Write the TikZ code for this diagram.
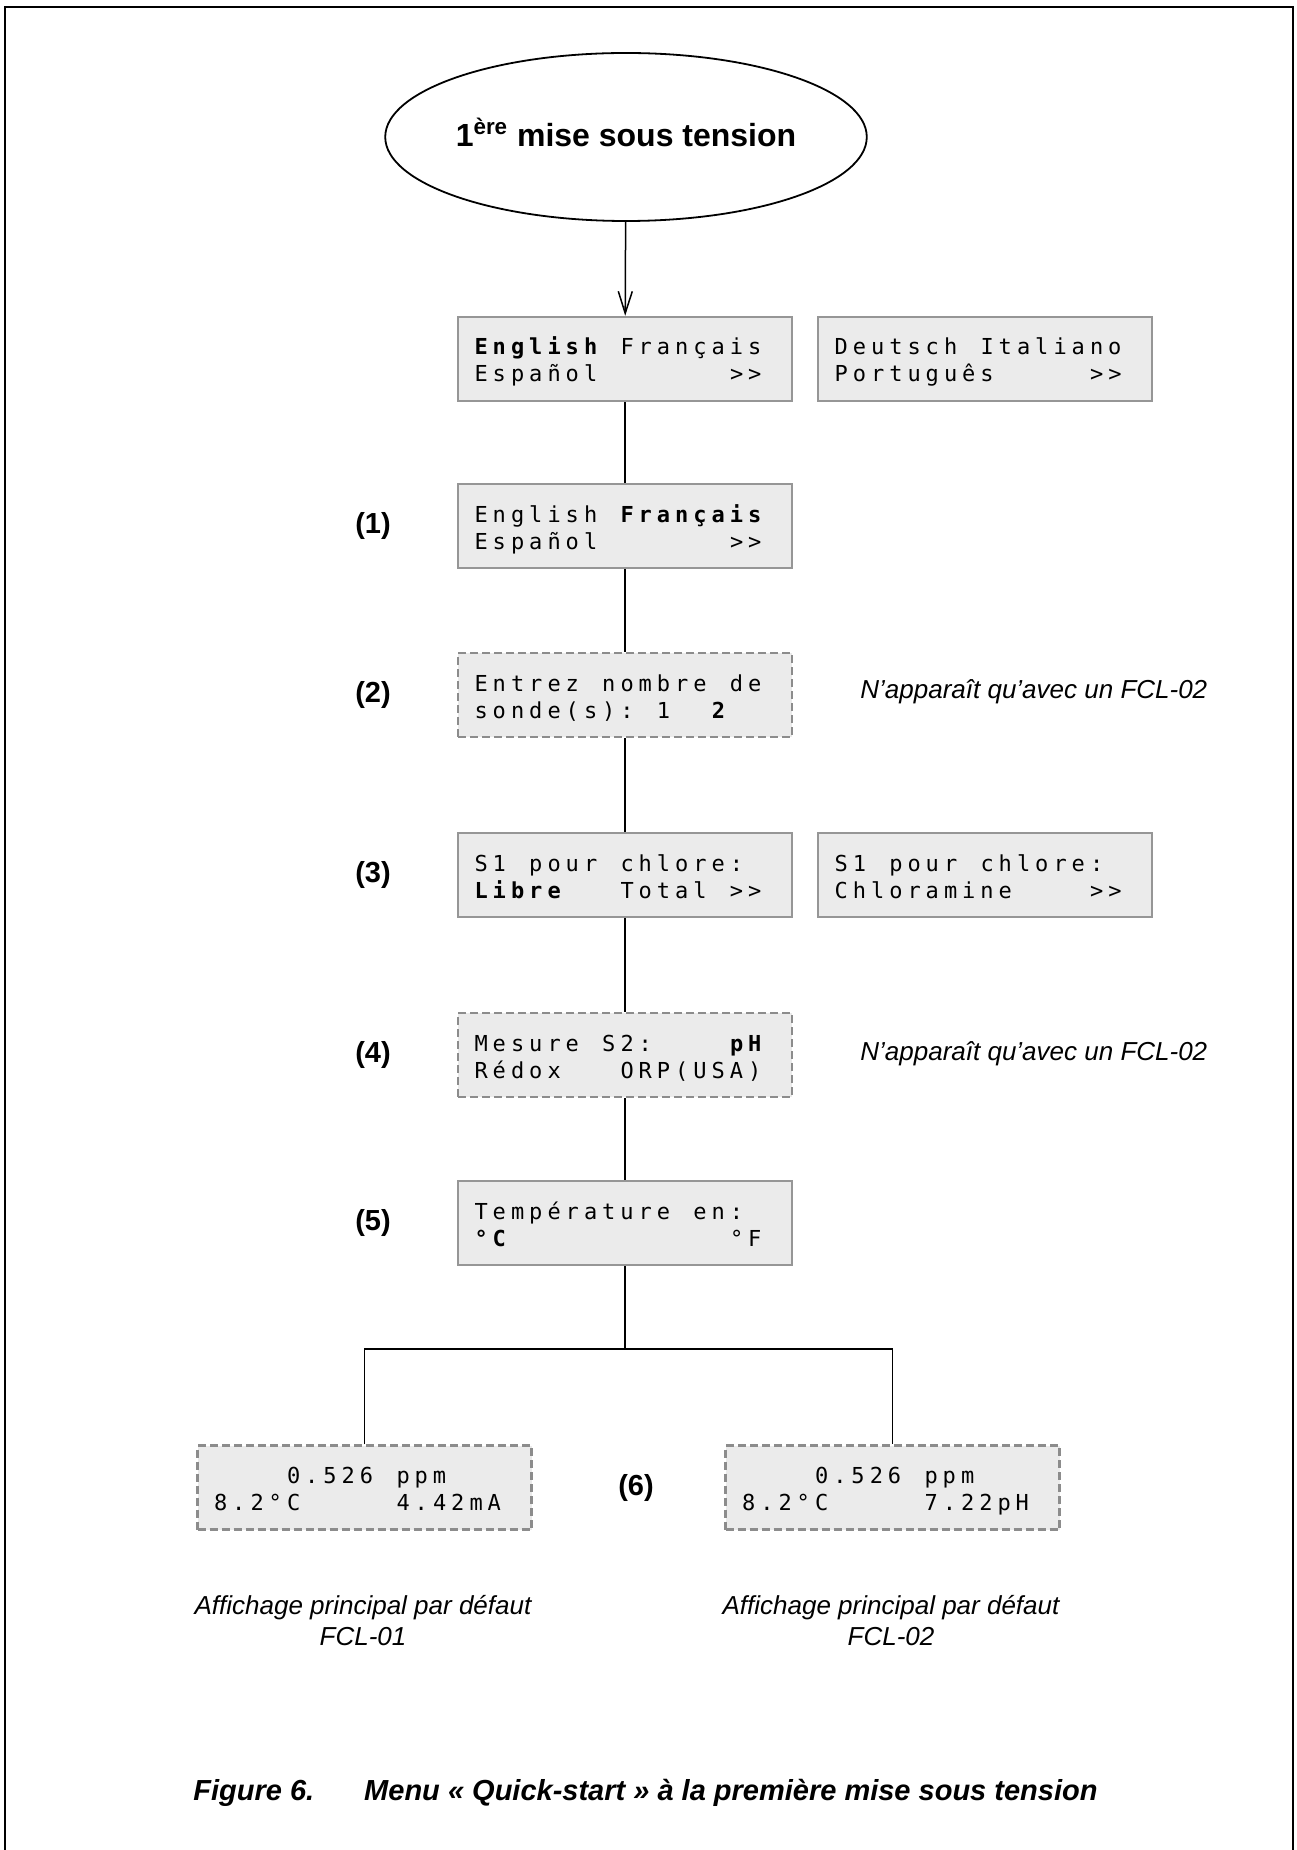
\documentclass[tikz,border=0pt]{standalone}
\usepackage{fontspec}
\setmainfont{Liberation Sans}
\newfontfamily\lcdfont{DejaVu Sans Mono}
\usetikzlibrary{shapes.geometric,arrows.meta}

\definecolor{lcdfill}{RGB}{235,235,235}
\definecolor{lcdedge}{RGB}{150,150,150}
\definecolor{lcdedgeopt}{RGB}{140,140,140}

% LCD character grid: every character sits in a cell of fixed pitch
\newlength\lcdpitch \setlength\lcdpitch{9.125pt}
\def\lcdon{LCD-ON}\def\lcdoff{LCD-OFF}\def\lcdend{LCD-END}
\def\lcdscan#1{%
  \ifx#1\lcdend \let\lcdnext\relax
  \else
    \let\lcdnext\lcdscan
    \ifx#1\lcdon \bfseries
    \else\ifx#1\lcdoff \mdseries
    \else\makebox[\lcdpitch][c]{#1}%
    \fi\fi
  \fi
  \lcdnext}
\newcommand\lcdrow[1]{\lcdscan#1\lcdend}
% two-line display, 167pt x 42pt
\newcommand\lcdbox[2]{%
  \vbox to 42pt{\offinterlineskip
    \hbox to 167pt{\kern7pt\vrule height19pt depth0pt width0pt%
      \smash{\lcdfont\fontsize{11pt}{13pt}\selectfont\lcdrow{#1}}\hss}%
    \hbox to 167pt{\kern7pt\vrule height13.5pt depth0pt width0pt%
      \smash{\lcdfont\fontsize{11pt}{13pt}\selectfont\lcdrow{#2}}\hss}%
    \vss}}

\tikzset{
  lcd/.style={draw=lcdedge, fill=lcdfill, line width=1.2pt, inner sep=0pt},
  lcdopt/.style={lcd, draw=lcdedgeopt, dash pattern=on 4pt off 2pt},
  link/.style={line width=0.75pt, draw=black},
  stepno/.style={font=\bfseries\fontsize{14.5pt}{17pt}\selectfont},
  note/.style={font=\itshape\fontsize{13pt}{15.5pt}\selectfont},
}

\begin{document}
\begin{tikzpicture}[x=0.5pt,y=-0.5pt]
  \useasboundingbox (0,0) rectangle (1296,1850);

  % page frame, open at the bottom
  \draw[line width=1.2pt] (5,1850) -- (5,7) -- (1293,7) -- (1293,1850);

  % start
  \node[ellipse, draw, line width=0.9pt, minimum width=220pt, minimum height=84pt,
        inner sep=0pt, text height=11.5pt, text depth=1.75pt,
        font=\bfseries\fontsize{16pt}{19pt}\selectfont]
        (start) at (626,137) {1\textsuperscript{ère} mise sous tension};

  % language selection
  \node[lcd] (langA) at (625,359)
    {\lcdbox{\lcdon English\lcdoff ~Français}{Español~~~~~~~>>}};
  \node[lcd] (langB) at (985,359)
    {\lcdbox{Deutsch~Italiano}{Português~~~~~>>}};

  % (1)
  \node[lcd] (lang) at (625,526)
    {\lcdbox{English~\lcdon Français}{Español~~~~~~~>>}};
  \node[stepno] (s1) at (373,526) {(1)};

  % (2)
  \node[lcdopt] (probes) at (625,695)
    {\lcdbox{Entrez~nombre~de}{sonde(s):~1~~\lcdon 2}};
  \node[stepno] (s2) at (373,695) {(2)};
  \node[note, anchor=west, inner sep=0pt] (n2) at (860,692) {N’apparaît qu’avec un FCL-02};

  % (3)
  \node[lcd] (chlA) at (625,875)
    {\lcdbox{S1~pour~chlore:}{\lcdon Libre\lcdoff ~~~Total~>>}};
  \node[lcd] (chlB) at (985,875)
    {\lcdbox{S1~pour~chlore:}{Chloramine~~~~>>}};
  \node[stepno] (s3) at (373,875) {(3)};

  % (4)
  \node[lcdopt] (meas) at (625,1055)
    {\lcdbox{Mesure~S2:~~~~\lcdon pH}{Rédox~~~ORP(USA)}};
  \node[stepno] (s4) at (373,1055) {(4)};
  \node[note, anchor=west, inner sep=0pt] (n4) at (860,1054) {N’apparaît qu’avec un FCL-02};

  % (5)
  \node[lcd] (temp) at (625,1223)
    {\lcdbox{Température~en:}{\lcdon °C\lcdoff ~~~~~~~~~~~~°F}};
  \node[stepno] (s5) at (373,1223) {(5)};

  % (6) default main displays
  \node[lcdopt] (mainA) at (364.5,1487.5)
    {\lcdbox{~~~~0.526~ppm}{8.2°C~~~~~4.42mA}};
  \node[lcdopt] (mainB) at (892.5,1487.5)
    {\lcdbox{~~~~0.526~ppm}{8.2°C~~~~~7.22pH}};
  \node[stepno] (s6) at (636,1488) {(6)};

  \node[note, align=center] (capA) at (363,1621)
    {Affichage principal par défaut\\FCL-01};
  \node[note, align=center] (capB) at (891,1621)
    {Affichage principal par défaut\\FCL-02};

  % connectors
  \draw[link, -{Straight Barb[length=11pt,width=7pt]}] (start) -- (langA);
  \draw[link] (langA) -- (lang);
  \draw[link] (lang) -- (probes);
  \draw[link] (probes) -- (chlA);
  \draw[link] (chlA) -- (meas);
  \draw[link] (meas) -- (temp);
  \coordinate (split) at (625,1349);
  \draw[link] (temp) -- (split);
  \draw[link] (mainA.north) |- (split) -| (mainB.north);

  % figure caption
  \node[anchor=west, inner sep=0pt, font=\bfseries\itshape\fontsize{14.5pt}{17pt}\selectfont]
    (fig) at (193,1793)
    {Figure 6.\hspace{25pt}Menu « Quick-start » à la première mise sous tension};
\end{tikzpicture}
\end{document}
